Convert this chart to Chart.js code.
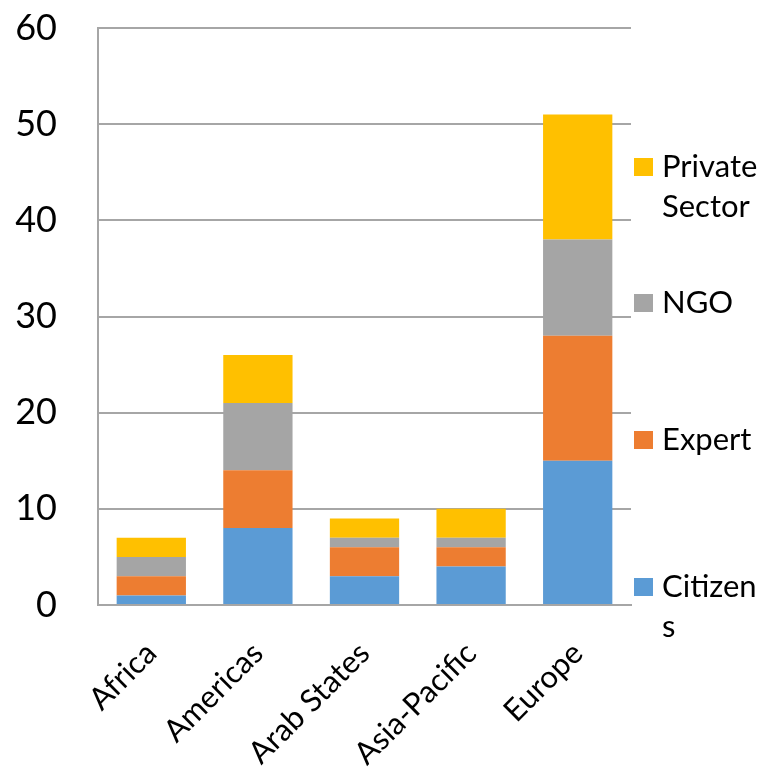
<!DOCTYPE html>
<html>
<head>
<meta charset="utf-8">
<script src="https://cdn.jsdelivr.net/npm/chart.js@4.4.1/dist/chart.umd.min.js"></script>
<style>
  html, body { margin: 0; padding: 0; background: #fff; }
  #wrap { width: 761px; height: 772px; position: relative; }
</style>
</head>
<body>
<div id="wrap"><canvas id="Chart"></canvas></div>
<script>
var regions = ["Africa", "Americas", "Arab States", "Asia-Pacific", "Europe"];
var citizens = [1, 8, 3, 4, 15];
var expert = [2, 6, 3, 2, 13];
var ngo = [2, 7, 1, 1, 10];
var privateSector = [2, 5, 2, 3, 13];
var yTicks = [0, 10, 20, 30, 40, 50, 60];

var FONT = "Lato, 'Open Sans', sans-serif";

// legend drawn by hand so it can wrap and spread like the original
var sideLegend = {
  id: "sideLegend",
  afterDraw: function (chart) {
    var ctx = chart.ctx;
    var area = chart.chartArea;
    var firstBaselines = [597, 450, 313, 177]; // citizens .. private sector
    var lineHeight = 40;
    var maxW = 761 - (area.right + 31) - 1;
    ctx.save();
    ctx.font = "31px " + FONT;
    ctx.textBaseline = "alphabetic";
    ctx.textAlign = "left";
    chart.data.datasets.forEach(function (ds, i) {
      var lines = wrap(ctx, ds.label, maxW);
      var base = firstBaselines[i];
      ctx.fillStyle = ds.backgroundColor;
      ctx.fillRect(area.right + 3, base - 19, 19, 18);
      ctx.fillStyle = "#000";
      lines.forEach(function (ln, k) {
        ctx.fillText(ln, area.right + 31, base + k * lineHeight);
      });
    });
    ctx.restore();
  },
};

function wrap(ctx, text, maxW) {
  var out = [];
  text.split(" ").forEach(function (w) {
    var cur = "";
    for (var c = 0; c < w.length; c++) {
      if (cur && ctx.measureText(cur + w[c]).width > maxW) {
        out.push(cur);
        cur = "";
      }
      cur += w[c];
    }
    out.push(cur);
  });
  return out;
}

function initializeChart() {
  var ctx = document.getElementById("Chart").getContext("2d");
  var mk = function (label, data, color) {
    return {
      label: label,
      data: data,
      backgroundColor: color,
      borderWidth: 0,
      categoryPercentage: 1,
      barPercentage: 0.65,
    };
  };
  window.myChart = new Chart(ctx, {
    type: "bar",
    data: {
      labels: regions,
      datasets: [
        mk("Citizens", citizens, "#5b9bd5"),
        mk("Expert", expert, "#ed7d31"),
        mk("NGO", ngo, "#a5a5a5"),
        mk("Private Sector", privateSector, "#ffc000"),
      ],
    },
    options: {
      animation: false,
      responsive: true,
      maintainAspectRatio: false,
      layout: { padding: { top: 0, right: 130, left: 0, bottom: 0 } },
      scales: {
        x: {
          stacked: true,
          grid: { display: false, drawTicks: false },
          border: { color: "#a6a6a6", width: 2 },
          ticks: {
            color: "#000",
            maxRotation: 45,
            minRotation: 45,
            padding: 30,
            font: { size: 31, family: FONT },
          },
          afterFit: function (s) { s.height = 167; },
        },
        y: {
          stacked: true,
          min: 0,
          max: 60,
          afterBuildTicks: function (s) {
            s.ticks = yTicks.map(function (v) { return { value: v }; });
          },
          grid: { color: "#a6a6a6", lineWidth: 2, drawTicks: false },
          border: { color: "#a6a6a6", width: 2 },
          ticks: {
            color: "#000",
            padding: 41,
            font: { size: 36, family: FONT },
          },
          afterFit: function (s) {
            s.width = 98;
            s.paddingTop = 28;
            s.paddingBottom = 0;
          },
        },
      },
      plugins: {
        legend: { display: false },
        tooltip: { enabled: false },
      },
    },
    plugins: [sideLegend],
  });
}

window.onload = function () {
  initializeChart();
};
</script>
</body>
</html>
